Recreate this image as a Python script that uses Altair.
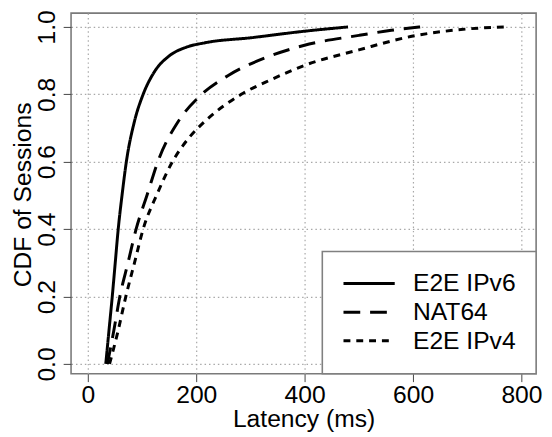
import altair as alt
import pandas as pd

series = ["E2E IPv6", "NAT64", "E2E IPv4"]

ipv6_ms = [33, 39, 45, 50.5, 56, 63, 71, 86, 102, 122, 150, 180, 216, 301, 398, 480]
ipv6_cdf = [0.0, 0.1, 0.2, 0.3, 0.4, 0.5, 0.6, 0.72, 0.8, 0.865, 0.914, 0.939, 0.953, 0.968, 0.987, 1.0]

nat64_ms = [36, 48, 59, 74, 89, 110, 129, 167, 208, 259, 330, 398, 500, 560, 613]
nat64_cdf = [0.0, 0.1, 0.2, 0.3, 0.4, 0.505, 0.6, 0.72, 0.797, 0.856, 0.91, 0.945, 0.975, 0.99, 1.0]

ipv4_ms = [40, 56, 70, 86, 102, 128, 156, 186, 216, 283, 340, 398, 500, 600, 700, 770]
ipv4_cdf = [0.0, 0.1, 0.2, 0.3, 0.4, 0.505, 0.6, 0.67, 0.72, 0.8, 0.845, 0.885, 0.932, 0.973, 0.994, 1.0]

x_ticks = [0, 200, 400, 600, 800]
y_ticks = [0.0, 0.2, 0.4, 0.6, 0.8, 1.0]

rows = []
for name, xs, ys in [(series[0], ipv6_ms, ipv6_cdf),
                     (series[1], nat64_ms, nat64_cdf),
                     (series[2], ipv4_ms, ipv4_cdf)]:
    for i, (xv, yv) in enumerate(zip(xs, ys)):
        rows.append({"series": name, "latency": xv, "cdf": yv, "order": i})
df = pd.DataFrame(rows)

FONT = "Liberation Sans"

chart = alt.Chart(df).mark_line(
    color="black", strokeWidth=3, interpolate="monotone", strokeCap="butt"
).encode(
    x=alt.X("latency:Q",
            scale=alt.Scale(domain=[-31, 827], nice=False, zero=False),
            axis=alt.Axis(values=x_ticks, title="Latency (ms)", grid=True,
                          gridDash=[1.5, 3], gridColor="#a8a8a8", gridWidth=1.2,
                          domain=False, tickSize=8, tickColor="#444", tickWidth=1,
                          labelFontSize=25, labelPadding=1, labelColor="black",
                          labelFont=FONT, labelBaseline="top",
                          titleFont=FONT, titleFontSize=25, titleFontWeight="normal",
                          titleColor="black", titleBaseline="top",
                          titleX=236, titleY=34)),
    y=alt.Y("cdf:Q",
            scale=alt.Scale(domain=[-0.029, 1.041], nice=False, zero=False),
            axis=alt.Axis(values=y_ticks, format=".1f", title="CDF of Sessions",
                          grid=True, gridDash=[1.5, 3], gridColor="#a8a8a8", gridWidth=1.2,
                          domain=False, tickSize=8, tickColor="#444", tickWidth=1,
                          labelFontSize=25, labelPadding=4, labelColor="black",
                          labelFont=FONT, labelAngle=270, labelAlign="center",
                          labelBaseline="bottom",
                          titleFont=FONT, titleFontSize=25, titleFontWeight="normal",
                          titleColor="black", titleX=-36, titleY=184)),
    strokeDash=alt.StrokeDash(
        "series:N", sort=series,
        scale=alt.Scale(domain=series, range=[[1, 0], [17, 10], [7, 6]]),
        legend=alt.Legend(title=None, orient="bottom-right", offset=0,
                          symbolType="M-3.667,0H13.667", symbolSize=36,
                          symbolStrokeWidth=3, symbolStrokeColor="black",
                          labelFontSize=25, labelFont=FONT, labelColor="black",
                          labelOffset=47, padding=20, rowPadding=3,
                          strokeColor="#808080", fillColor="white")),
    order="order:Q",
    detail="series:N",
).properties(
    width=472, height=366,
    autosize=alt.AutoSizeParams(type="none"),
    padding={"left": 64, "top": 2, "right": 8, "bottom": 61},
).configure_view(
    stroke="#7a7a7a", strokeWidth=1.6
).configure_legend(
    strokeWidth=1.6
)

chart.save("out.html", embed_options={"renderer": "svg", "actions": False})
